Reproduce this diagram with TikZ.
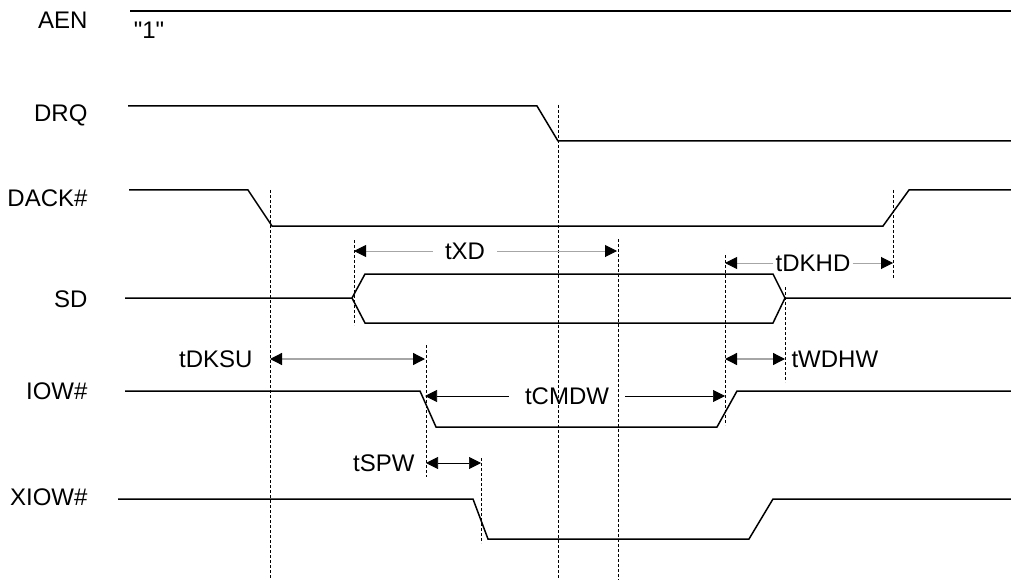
\documentclass[tikz,border=0pt]{standalone}
\usepackage{fontspec}
\setmainfont{Liberation Sans}[Ligatures=TeXOff]
\usetikzlibrary{arrows.meta, positioning}

\tikzset{
  sig/.style={line width=1.5pt},
  guide/.style={dash pattern=on 3pt off 2pt, line width=0.6pt},
  tip/.tip={Triangle[length=12pt,width=12pt,color=black]},
  dimg/.style={tip-tip, draw=gray!70, line width=1.3pt},
  dimk/.style={tip-tip, draw=black, line width=0.7pt},
  halfg/.style={-tip, draw=gray!70, line width=1pt},
  halfk/.style={-tip, draw=black, line width=0.7pt},
  signame/.style={anchor=east},
}

\begin{document}
\begin{tikzpicture}[x=1pt, y=-1pt, font=\fontsize{24}{28}\selectfont]
    \useasboundingbox (0,0) rectangle (1011,580);

    % signal names
    \node[signame] (aen)  at (91,20)  {AEN};
    \node[signame] (drq)  at (91,115) {DRQ};
    \node[signame] (dack) at (91,198) {DACK\#};
    \node[signame] (sd)   at (91,299) {SD};
    \node[signame] (iow)  at (91,391) {IOW\#};
    \node[signame] (xiow) at (91,497) {XIOW\#};
    \node (one) at (149,30) {"1"};

    % waveforms
    \draw[sig] (130,11) -- (1011,11);
    \draw[sig] (128,106) -- (537,106) -- (558,141) -- (1011,141);
    \draw[sig] (129,190) -- (248,190) -- (272,226) -- (883,226) -- (909,190) -- (1011,190);
    \draw[sig] (125,298) -- (352,298) -- (365,274) -- (773,274) -- (785,298) -- (1011,298);
    \draw[sig] (352,298) -- (365,323) -- (773,323) -- (785,298);
    \draw[sig] (125,391) -- (420,391) -- (436,427) -- (717,427) -- (737,391) -- (1011,391);
    \draw[sig] (118,499) -- (473,499) -- (488,539) -- (749,539) -- (773,499) -- (1011,499);

    % guide lines
    \draw[guide] (270,190) -- (270,580);
    \draw[guide] (354,240) -- (354,325);
    \draw[guide] (558,105) -- (558,580);
    \draw[guide] (618,239) -- (618,580);
    \draw[guide] (725,255) -- (725,425);
    \draw[guide] (785,287) -- (785,382);
    \draw[guide] (893,190) -- (893,278);
    \draw[guide] (426,345) -- (426,477);
    \draw[guide] (481,458) -- (481,543);

    % timing marks
    \coordinate (xdL) at (354,251);
    \coordinate (xdR) at (617,251);
    \node[inner sep=12pt] (txd) at (465,251) {tXD};
    \draw[halfg] (txd) -- (xdL);
    \draw[halfg] (txd) -- (xdR);

    \coordinate (khL) at (725,263);
    \coordinate (khR) at (893,263);
    \node[inner sep=2pt] (tdkhd) at (813,263) {tDKHD};
    \draw[halfg] (tdkhd) -- (khL);
    \draw[halfg] (tdkhd) -- (khR);

    \coordinate (ksL) at (270,359);
    \coordinate (ksR) at (425,359);
    \node[anchor=east] (tdksu) at (256,359) {tDKSU};
    \draw[dimg] (ksL) -- (ksR);

    \coordinate (whL) at (725,359);
    \coordinate (whR) at (785,359);
    \node[anchor=west] (twdhw) at (788,359) {tWDHW};
    \draw[dimg] (whL) -- (whR);

    \coordinate (cmL) at (425,396);
    \coordinate (cmR) at (725,396);
    \node[inner sep=16pt] (tcmdw) at (567,396) {tCMDW};
    \draw[halfk] (tcmdw) -- (cmL);
    \draw[halfk] (tcmdw) -- (cmR);

    \coordinate (spL) at (426,463);
    \coordinate (spR) at (481,463);
    \node[anchor=east] (tspw) at (418,463) {tSPW};
    \draw[dimk] (spL) -- (spR);
\end{tikzpicture}
\end{document}
